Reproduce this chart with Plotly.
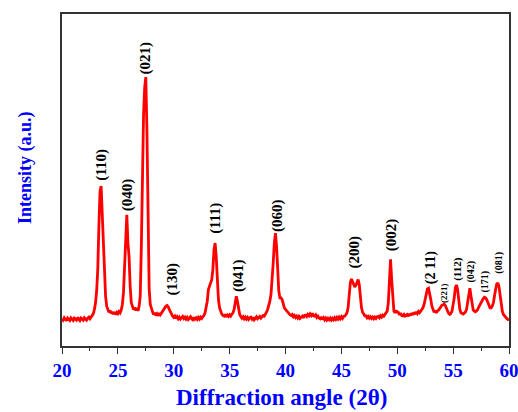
import plotly.graph_objects as go

intensity = [
    8.2, 7.8, 8.5, 8.0, 7.6, 8.4, 8.1, 7.7, 8.5, 8.0,        # 20
    7.7, 8.4, 8.1, 7.8, 8.6, 8.0, 7.7, 8.4, 8.2, 7.8,        # 21
    8.5, 8.1, 7.8, 8.4, 8.7, 8.2, 8.6, 9.1, 9.7, 11.0,       # 22
    13.0, 16.5, 23.0, 36.0, 46.5, 48.2, 40.0, 29.0, 20.0, 15.0,  # 23
    12.0, 11.0, 10.2, 10.7, 9.8, 10.3, 9.6, 10.2, 9.5, 10.1,  # 24
    9.7, 10.4, 10.0, 10.8, 12.5, 16.0, 24.0, 35.0, 39.5, 31.0,  # 25
    27.0, 18.0, 13.0, 12.0, 11.0, 11.6, 10.7, 11.4, 10.6, 12.0,  # 26
    15.0, 30.0, 54.0, 70.0, 78.0, 81.0, 65.0, 35.0, 17.0, 12.5,  # 27
    11.0, 10.3, 9.5, 10.0, 9.2, 9.7, 9.1, 9.9, 9.4, 10.0,     # 28
    10.3, 10.8, 11.5, 12.0, 12.2, 11.8, 11.0, 10.2, 9.5, 9.0,  # 29
    8.6, 9.0, 8.3, 8.8, 8.2, 8.7, 8.1, 8.6, 8.9, 8.3,         # 30
    8.7, 8.1, 8.6, 8.0, 8.5, 8.8, 8.2, 7.9, 8.6, 8.1,         # 31
    8.5, 8.0, 8.6, 8.1, 8.7, 8.3, 8.8, 9.2, 10.0, 11.5,       # 32
    13.5, 17.0, 18.5, 19.0, 20.0, 23.0, 29.0, 31.0, 27.0, 19.0,  # 33
    14.0, 11.5, 10.2, 9.6, 9.2, 9.0, 9.5, 8.8, 9.3, 8.9,      # 34
    9.4, 9.0, 9.6, 10.0, 11.0, 13.0, 15.0, 13.5, 10.8, 9.5,   # 35
    8.9, 8.4, 8.8, 8.2, 8.7, 8.1, 8.6, 8.0, 8.5, 8.7,         # 36
    8.1, 8.6, 7.9, 8.5, 8.8, 8.2, 8.7, 8.9, 8.4, 9.0,         # 37
    9.2, 9.0, 9.5, 10.2, 11.0, 12.0, 13.5, 15.5, 19.5, 25.0,  # 38
    31.0, 34.0, 30.0, 22.0, 16.5, 14.5, 14.5, 14.0, 12.5, 11.5,  # 39
    11.0, 10.6, 10.0, 9.8, 9.4, 9.2, 9.5, 8.8, 9.2, 8.6,      # 40
    9.0, 8.4, 8.9, 8.3, 8.8, 9.0, 8.5, 9.2, 9.3, 8.9,         # 41
    9.5, 9.1, 9.7, 9.2, 9.8, 9.1, 9.0, 9.4, 8.6, 9.0,         # 42
    8.4, 8.2, 8.7, 8.0, 8.5, 7.9, 8.4, 7.8, 8.3, 7.9,         # 43
    8.4, 7.8, 8.3, 7.9, 8.5, 8.0, 8.6, 8.1, 8.7, 8.2,         # 44
    8.8, 8.3, 8.9, 9.0, 9.4, 10.0, 11.5, 15.5, 19.0, 20.2,    # 45
    19.5, 18.5, 17.8, 18.3, 19.3, 20.0, 18.5, 14.5, 11.5, 10.2,  # 46
    9.6, 9.1, 9.1, 8.5, 8.9, 8.4, 8.8, 8.3, 8.7, 8.2,         # 47
    8.7, 8.3, 8.8, 8.9, 8.5, 9.1, 8.7, 9.3, 9.0, 9.5,         # 48
    9.8, 10.5, 13.0, 21.0, 26.1, 20.0, 13.0, 10.5, 10.0, 10.7,  # 49
    10.2, 10.1, 9.4, 9.9, 9.2, 9.1, 9.5, 8.8, 9.3, 9.5,       # 50
    9.0, 9.7, 9.2, 9.9, 9.4, 10.1, 9.6, 10.3, 9.8, 10.4,      # 51
    10.0, 10.4, 10.9, 11.5, 12.5, 14.0, 16.0, 17.2, 17.4, 16.0,  # 52
    14.0, 12.0, 10.8, 10.2, 10.7, 10.0, 10.6, 10.8, 11.3, 12.0,  # 53
    12.3, 12.4, 12.6, 12.2, 11.3, 10.4, 9.8, 9.5, 9.8, 10.5,  # 54
    12.0, 14.5, 17.5, 18.4, 17.0, 13.5, 11.0, 10.0, 9.7, 9.6,  # 55
    9.9, 10.2, 11.0, 13.0, 16.0, 17.4, 15.0, 12.0, 10.8, 10.5,  # 56
    10.3, 10.6, 11.0, 11.8, 12.5, 13.3, 13.8, 14.3, 14.7, 14.5,  # 57
    14.0, 13.0, 12.0, 11.5, 11.5, 12.0, 13.0, 14.5, 17.0, 18.6,  # 58
    19.0, 18.0, 15.5, 12.5, 10.5, 9.5, 9.0, 8.6, 8.3, 8.0,    # 59
    8.2,                                                     # 60
]
start_angle = 20.0
angle_step = 0.1
two_theta = [round(start_angle + angle_step * i, 1) for i in range(len(intensity))]

# Peak labels (Miller indices)
peak_labels = ["(110)", "(040)", "(021)", "(130)", "(111)", "(041)", "(060)",
               "(200)", "(002)", "(2 11)", "(221)", "(112)", "(042)", "(171)", "(081)"]
label_angle = [23.56, 25.81, 27.51, 29.85, 33.79, 35.77, 39.33,
               46.21, 49.51, 53.03, 54.17, 55.43, 56.62, 57.88, 59.08]
label_level = [49.4, 40.4, 81.6, 14.8, 33.4, 15.9, 33.9,
               23.2, 28.3, 18.2, 12.6, 19.3, 18.9, 15.9, 21.4]
label_size = [15, 15, 15, 15, 15, 15, 15, 15, 15, 14, 9, 11, 10, 10, 10]

x_ticks = [20, 25, 30, 35, 40, 45, 50, 55, 60]

SERIF = "Times New Roman, Liberation Serif, serif"
BLUE = "#0000ff"

fig = go.Figure()
fig.add_trace(go.Scatter(x=two_theta, y=intensity, mode="lines",
                         line=dict(color="#ff0000", width=2.8),
                         showlegend=False, hoverinfo="skip"))

for txt, xa, ya, fs in zip(peak_labels, label_angle, label_level, label_size):
    fig.add_annotation(x=xa, y=ya, xref="x", yref="y", text="<b>" + txt + "</b>",
                       textangle=-90, showarrow=False, xanchor="center", yanchor="bottom",
                       font=dict(family=SERIF, size=fs, color="black"),
                       borderpad=0)

fig.add_annotation(x=-0.083, y=0.539, xref="paper", yref="paper",
                   text="<b>Intensity (a.u.)</b>", textangle=-90, showarrow=False,
                   xanchor="center", yanchor="middle",
                   font=dict(family=SERIF, size=18, color=BLUE))
fig.add_annotation(x=0.492, y=-0.154, xref="paper", yref="paper",
                   text="<b>Diffraction angle (2θ)</b>", showarrow=False,
                   xanchor="center", yanchor="middle",
                   font=dict(family=SERIF, size=23, color=BLUE))

fig.update_layout(
    width=518, height=412,
    margin=dict(l=62, r=9, t=14, b=66),
    paper_bgcolor="white", plot_bgcolor="white",
    xaxis=dict(range=[20, 60], tickvals=x_ticks,
               ticktext=["<b>" + str(v) + "</b>" for v in x_ticks],
               automargin=False, ticklabeloverflow="allow",
               showline=True, linecolor="#333333", linewidth=1.5, mirror=True,
               ticks="outside", ticklen=6, tickwidth=1.2, tickcolor="#333333",
               minor=dict(dtick=2.5, tick0=20, ticks="outside", ticklen=3.5,
                          tickwidth=1.2, tickcolor="#333333"),
               showgrid=False, zeroline=False,
               tickfont=dict(family=SERIF, size=19, color=BLUE)),
    yaxis=dict(range=[0, 100], showline=True, linecolor="#333333", linewidth=1.5,
               mirror=True, showticklabels=False, ticks="", showgrid=False,
               zeroline=False, automargin=False),
)

fig.write_html("out.html")
